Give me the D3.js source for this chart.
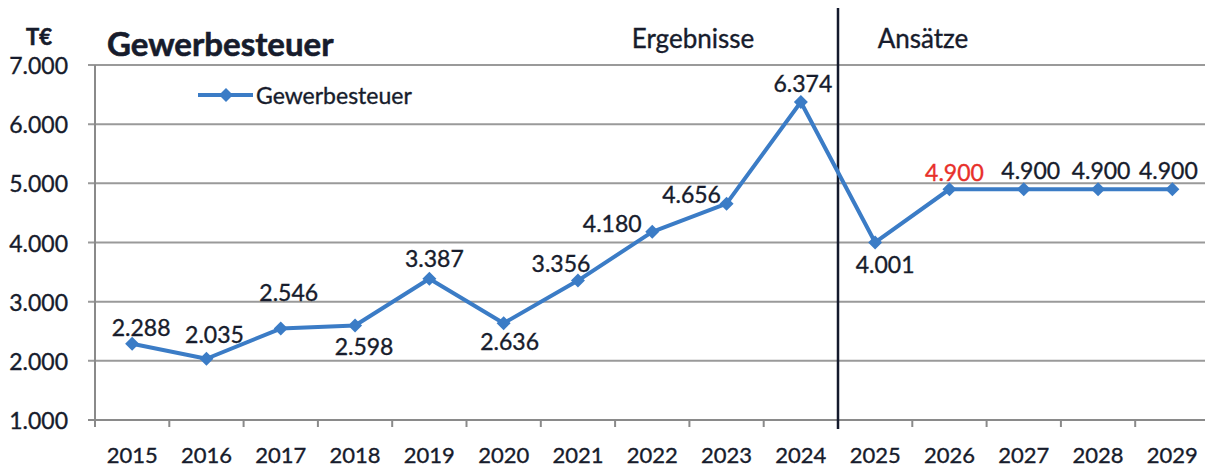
<!DOCTYPE html>
<html>
<head>
<meta charset="utf-8">
<script src="https://cdn.jsdelivr.net/npm/d3@7"></script>
<style>
  body { margin: 0; background: #fff; }
  text { font-family: Lato, "Open Sans", sans-serif; fill: #171c2c; stroke: #171c2c; stroke-width: 0.35px; }
  text.bold { stroke-width: 0.6px; }
</style>
</head>
<body>
<svg id="chart" width="1205" height="468"></svg>
<script>
// data
const years = ['2015', '2016', '2017', '2018', '2019', '2020', '2021', '2022', '2023', '2024', '2025', '2026', '2027', '2028', '2029']
const gewerbesteuer = [2288, 2035, 2546, 2598, 3387, 2636, 3356, 4180, 4656, 6374, 4001, 4900, 4900, 4900, 4900]
const yTicks = [1000, 2000, 3000, 4000, 5000, 6000, 7000]
// label placement next to each point (dx, dy of baseline)
const labelShift = [[9, -8], [8, -16], [8, -28], [9, 30], [5, -12], [6, 27], [-17, -9], [-40, 0], [-35, -1], [2, -10], [10, 31], [5, -8], [7, -10], [3, -10], [-4, -10]]
const highlight = '2026'

const fmt = v => d3.format(',')(v).replace(/,/g, '.')

const svg = d3.select('#chart')
const blue = '#3b7cc6'

const x = d3.scaleBand().domain(years).range([95, 1209.5])
const y = d3.scaleLinear().domain([1000, 7000]).range([420, 65])

// grid
svg.append('g')
    .selectAll('line')
    .data(yTicks.slice(1))
    .join('line')
    .attr('x1', 88).attr('x2', 1205)
    .attr('y1', d => y(d)).attr('y2', d => y(d))
    .attr('stroke', '#9a9a9a')
    .attr('stroke-width', 2)

// x axis line + ticks
svg.append('line')
    .attr('x1', 88).attr('x2', 1205)
    .attr('y1', y(1000)).attr('y2', y(1000))
    .attr('stroke', '#8a8a8a').attr('stroke-width', 2)

svg.append('line')
    .attr('x1', 95).attr('x2', 95)
    .attr('y1', y(7000)).attr('y2', y(1000) + 7)
    .attr('stroke', '#8a8a8a').attr('stroke-width', 2)

svg.append('g')
    .selectAll('line')
    .data(years.slice(1))
    .join('line')
    .attr('x1', d => x(d)).attr('x2', d => x(d))
    .attr('y1', y(1000)).attr('y2', y(1000) + 7)
    .attr('stroke', '#8a8a8a').attr('stroke-width', 2)

// y labels
svg.append('g')
    .selectAll('text')
    .data(yTicks)
    .join('text')
    .attr('x', 68)
    .attr('y', d => y(d) + 9)
    .attr('text-anchor', 'end')
    .style('font-size', '23px')
    .text(fmt)

// x labels
svg.append('g')
    .selectAll('text')
    .data(years)
    .join('text')
    .attr('x', d => x(d) + x.bandwidth() / 2)
    .attr('y', 463)
    .attr('text-anchor', 'middle')
    .style('font-size', '22px')
    .text(d => d)

// divider between Ergebnisse and Ansätze
svg.append('line')
    .attr('x1', x('2025')).attr('x2', x('2025'))
    .attr('y1', 8).attr('y2', 429)
    .attr('stroke', '#141a2c').attr('stroke-width', 2.5)

svg.append('text')
    .attr('x', 693).attr('y', 48)
    .attr('text-anchor', 'middle')
    .style('font-size', '26px')
    .text('Ergebnisse')

svg.append('text')
    .attr('x', 923).attr('y', 48)
    .attr('text-anchor', 'middle')
    .style('font-size', '26px')
    .text('Ansätze')

// titles
svg.append('text')
    .attr('class', 'bold')
    .attr('x', 39).attr('y', 45)
    .attr('text-anchor', 'middle')
    .style('font-size', '22px')
    .style('font-weight', 'bold')
    .text('T€')

svg.append('text')
    .attr('class', 'bold')
    .attr('x', 107).attr('y', 56)
    .style('font-size', '33px')
    .style('font-weight', 'bold')
    .text('Gewerbesteuer')

// line
const pts = years.map((d, i) => ({ year: d, value: gewerbesteuer[i], shift: labelShift[i] }))
const cx = d => x(d.year) + x.bandwidth() / 2

svg.append('path')
    .datum(pts)
    .attr('fill', 'none')
    .attr('stroke', blue)
    .attr('stroke-width', 4)
    .attr('stroke-linejoin', 'round')
    .attr('d', d3.line().x(cx).y(d => y(d.value)))

// square diamond marker
const r = 7
const diamond = `M0,${-r}L${r},0L0,${r}L${-r},0Z`

svg.append('g')
    .selectAll('path')
    .data(pts)
    .join('path')
    .attr('d', diamond)
    .attr('transform', d => `translate(${cx(d)},${y(d.value)})`)
    .attr('fill', blue)

svg.append('g')
    .selectAll('text')
    .data(pts)
    .join('text')
    .attr('x', d => cx(d) + d.shift[0])
    .attr('y', d => y(d.value) + d.shift[1])
    .attr('text-anchor', 'middle')
    .style('font-size', '23px')
    .style('fill', d => d.year === highlight ? '#e8302a' : null)
    .style('stroke', d => d.year === highlight ? '#e8302a' : null)
    .text(d => fmt(d.value))

// legend
const lg = svg.append('g')
lg.append('line')
    .attr('x1', 198).attr('x2', 253)
    .attr('y1', 95).attr('y2', 95)
    .attr('stroke', blue).attr('stroke-width', 4)
lg.append('path')
    .attr('d', diamond)
    .attr('transform', 'translate(226,95)')
    .attr('fill', blue)
lg.append('text')
    .attr('x', 256).attr('y', 104)
    .style('font-size', '23px')
    .text('Gewerbesteuer')
</script>
</body>
</html>
